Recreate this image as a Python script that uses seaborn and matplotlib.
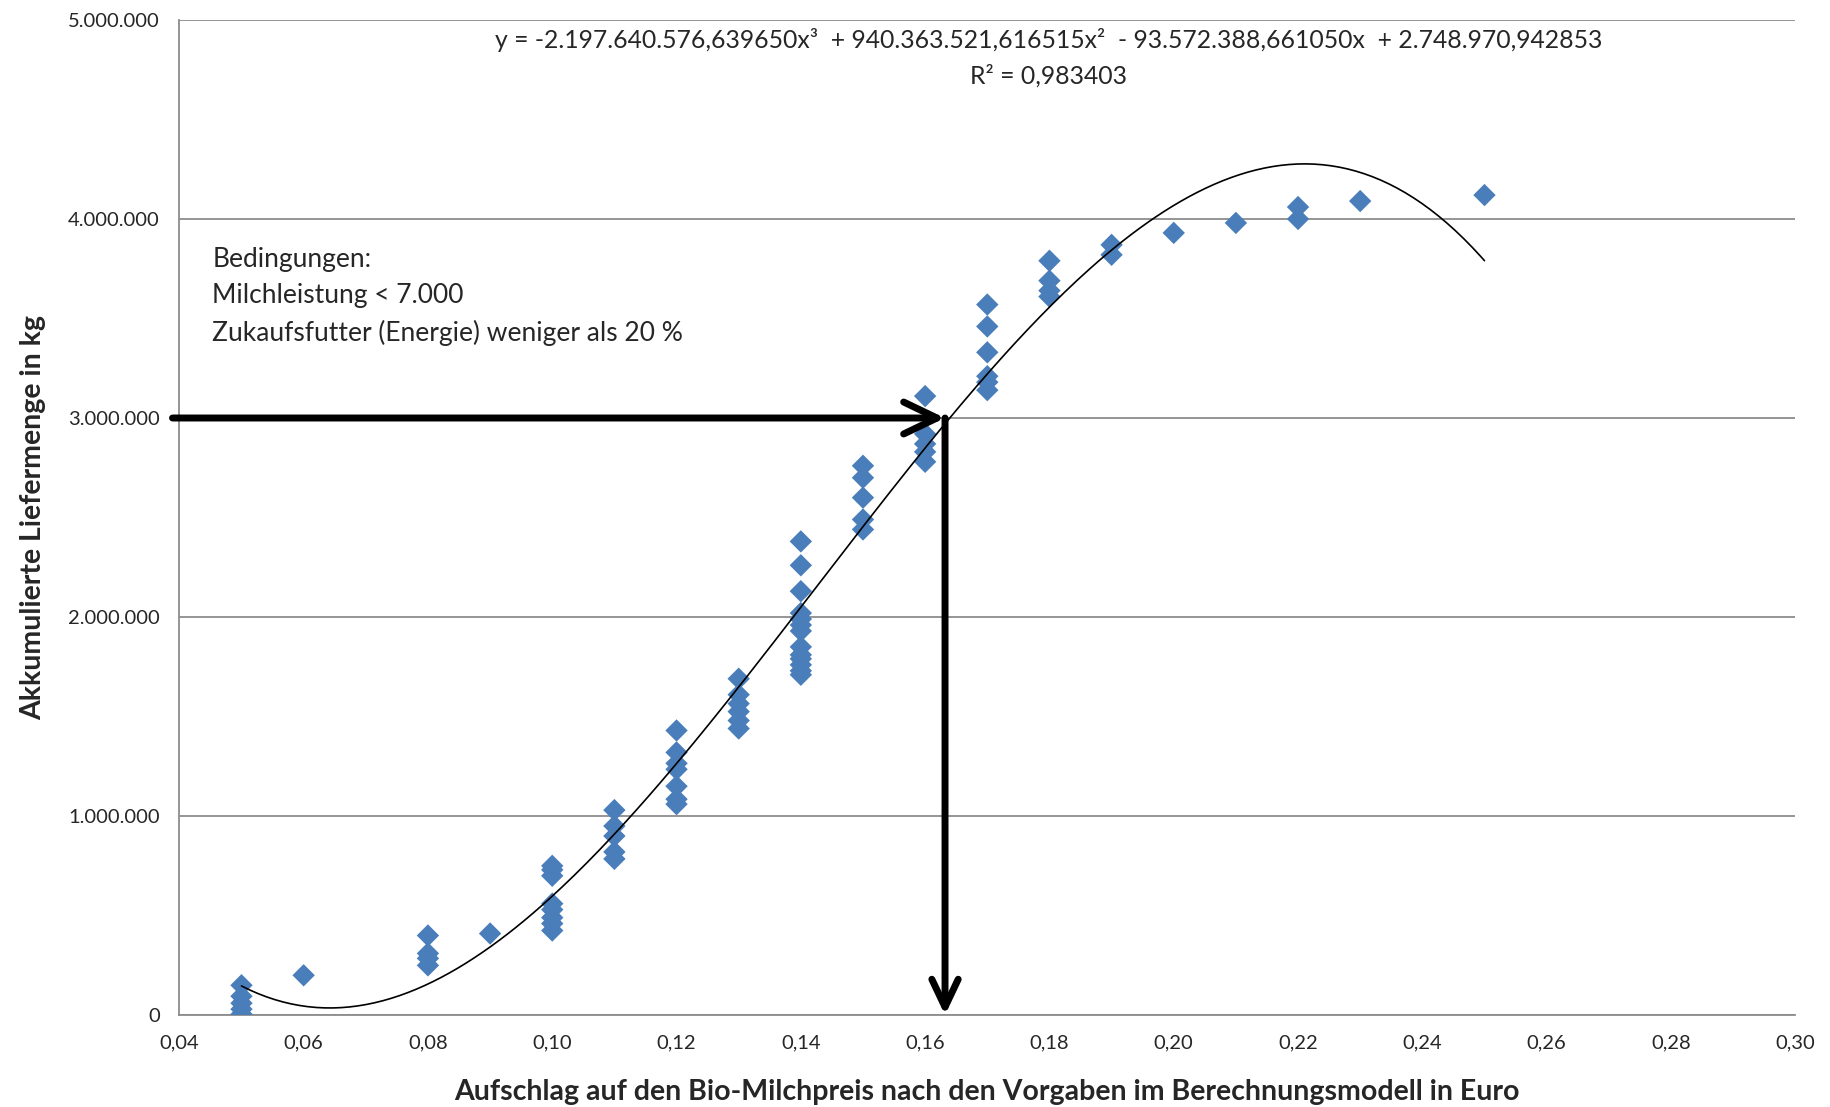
import numpy as np
import pandas as pd
import seaborn as sns
import matplotlib.pyplot as plt
from matplotlib.ticker import FuncFormatter, MultipleLocator

# Aufschlag (Euro) und akkumulierte Liefermenge (kg)
aufschlag_x = (
    [0.05] * 5 + [0.06] + [0.08] * 4 + [0.09] + [0.10] * 8 + [0.11] * 5
    + [0.12] * 7 + [0.13] * 6 + [0.14] * 13 + [0.15] * 5 + [0.16] * 5
    + [0.17] * 6 + [0.18] * 4 + [0.19] * 2 + [0.20] + [0.21] + [0.22] * 2
    + [0.23] + [0.25]
)
liefermenge_y = [
    150000, 95000, 60000, 30000, 5000,
    200000,
    400000, 310000, 285000, 250000,
    410000,
    750000, 730000, 700000, 560000, 530000, 490000, 460000, 425000,
    1030000, 950000, 900000, 820000, 785000,
    1430000, 1320000, 1265000, 1235000, 1150000, 1085000, 1060000,
    1690000, 1610000, 1565000, 1525000, 1480000, 1440000,
    2380000, 2260000, 2130000, 2020000, 1990000, 1960000, 1930000,
    1850000, 1810000, 1790000, 1760000, 1730000, 1710000,
    2760000, 2700000, 2600000, 2490000, 2440000,
    3110000, 2920000, 2870000, 2830000, 2780000,
    3570000, 3460000, 3330000, 3210000, 3180000, 3140000,
    3790000, 3690000, 3640000, 3610000,
    3870000, 3820000,
    3930000,
    3980000,
    4060000, 4000000,
    4090000,
    4120000,
]

# Trendlinie (Polynom 3. Grades) laut Beschriftung
coef = [-2197640576.639650, 940363521.616515, -93572388.661050, 2748970.942853]
r2 = 0.983403
x_ziel, y_ziel = 0.1632, 3000000

df = pd.DataFrame({"x": aufschlag_x, "y": liefermenge_y})
xs = np.linspace(0.05, 0.25, 300)
trend = pd.DataFrame({"x": xs, "y": np.polyval(coef, xs)})

sns.set_style("white")
plt.rcParams["font.family"] = ["Lato", "DejaVu Sans"]

fig = plt.figure(figsize=(18.3, 11.07), dpi=100)
ax = fig.add_axes([0.098, 0.083, 0.883, 0.899])

sns.scatterplot(data=df, x="x", y="y", marker="D", s=130, color="#4a7ebb",
                edgecolor="none", ax=ax, zorder=3)
sns.lineplot(data=trend, x="x", y="y", color="black", lw=1.2, ax=ax, zorder=4)

ax.set_xlim(0.04, 0.30)
ax.set_ylim(0, 5000000)
ax.xaxis.set_major_locator(MultipleLocator(0.02))
ax.yaxis.set_major_locator(MultipleLocator(1000000))
ax.xaxis.set_major_formatter(FuncFormatter(lambda v, p: f"{v:.2f}".replace(".", ",")))
ax.yaxis.set_major_formatter(FuncFormatter(lambda v, p: f"{v:,.0f}".replace(",", ".")))

ax.grid(axis="y", color="#8c8c8c", lw=1.3)
ax.set_axisbelow(True)
for side in ["top", "right"]:
    ax.spines[side].set_visible(False)
for side in ["left", "bottom"]:
    ax.spines[side].set_color("#8c8c8c")
    ax.spines[side].set_linewidth(1.3)
ax.tick_params(axis="both", direction="out", length=6, color="#8c8c8c",
               labelsize=14.5, pad=8)

ax.set_xlabel("Aufschlag auf den Bio-Milchpreis nach den Vorgaben im Berechnungsmodell in Euro",
              fontsize=20.5, fontweight="bold", labelpad=20)
ax.set_ylabel("Akkumulierte Liefermenge in kg", fontsize=20.5, fontweight="bold", labelpad=16)

ax.text(0.1798, 4900000,
        "y = -2.197.640.576,639650x³  + 940.363.521,616515x²  - 93.572.388,661050x  + 2.748.970,942853",
        ha="center", va="center", fontsize=17.8)
ax.text(0.1798, 4720000, f"R² = {r2:.6f}".replace(".", ","), ha="center", va="center", fontsize=17.8)

ax.text(0.0453, 3860000,
        "Bedingungen:\nMilchleistung < 7.000\nZukaufsfutter (Energie) weniger als 20 %",
        ha="left", va="top", fontsize=19, linespacing=1.55)

# Ablesepfeile
pfeil = dict(arrowstyle="->,head_length=2.4,head_width=1.15", color="black", lw=5,
             shrinkA=0, shrinkB=0, joinstyle="round", capstyle="round")
ax.annotate("", xy=(x_ziel, y_ziel), xytext=(0.0389, y_ziel), arrowprops=pfeil,
            annotation_clip=False, zorder=5)
pfeil_ab = dict(pfeil, arrowstyle="->,head_length=2.0,head_width=0.95")
ax.annotate("", xy=(x_ziel, 0), xytext=(x_ziel, y_ziel), arrowprops=pfeil_ab, zorder=5)

fig.savefig("out.png", dpi=100)
